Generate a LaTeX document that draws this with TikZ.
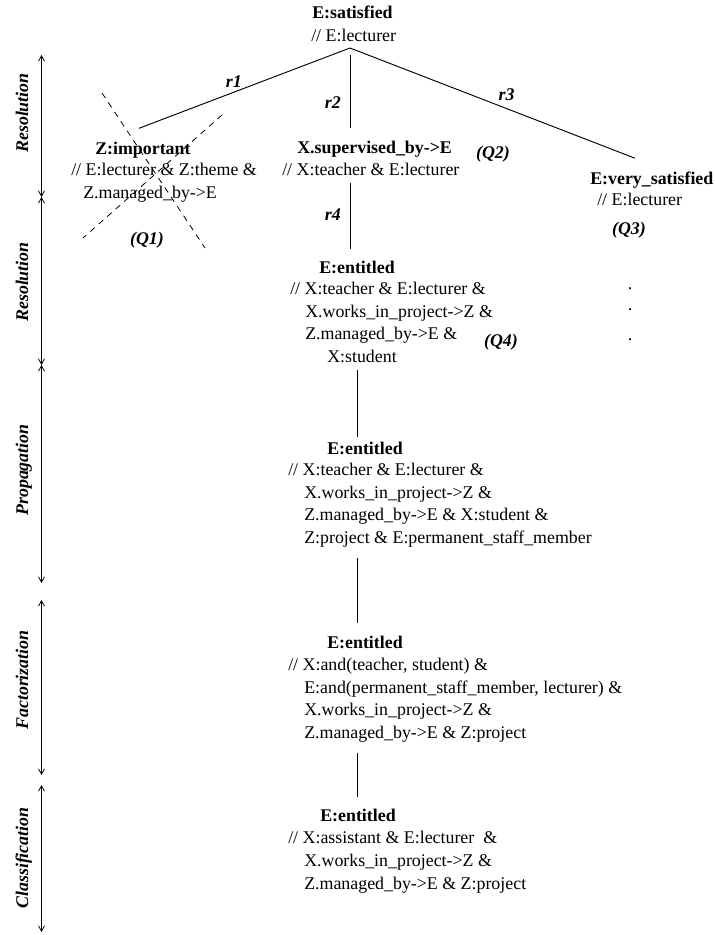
\documentclass[tikz,border=0pt]{standalone}
\usepackage{fontspec}
\setmainfont{Liberation Serif}
\usetikzlibrary{arrows.meta, positioning, calc}

\newcommand{\txtsize}{\fontsize{13.4pt}{16.9pt}\selectfont}

\begin{document}
\begin{tikzpicture}[
    x=0.75pt, y=-0.75pt,
    head/.style={font=\txtsize\bfseries, inner sep=0pt, anchor=base west},
    body/.style={font=\txtsize, align=left, inner sep=0pt, anchor=base west},
    rule/.style={font=\txtsize\bfseries\itshape, inner sep=0pt},
    query/.style={font=\txtsize\bfseries\itshape, inner sep=0pt},
    stage/.style={font=\txtsize\bfseries\itshape, rotate=90, anchor=base, inner sep=0pt},
    dot/.style={font=\txtsize, inner sep=0pt, anchor=base},
    edge/.style={line width=0.7pt},
    strike/.style={dash pattern=on 4.5pt off 4pt, line width=0.6pt},
    span/.style={<->, >={Straight Barb[length=4pt, width=4.5pt]}, line width=0.6pt}
]
\useasboundingbox (0,0) rectangle (714,935);

% Root (bodies are placed at the baseline of their last line)
\node[head] (sat) at (312,18) {E:satisfied};
\node[body] (satb) at (311,41) {// E:lecturer};
\coordinate (apex) at (350,48);

% First resolution step
\node[head] (imp) at (95,154) {Z:important};
\node[body] (impb) at (71,198.5) {// E:lecturer \& Z:theme \&\\\hspace*{9pt}Z.managed\_by->E};
\node[head] (sup) at (297,153) {X.supervised\_by->E};
\node[body] (supb) at (282,175) {// X:teacher \& E:lecturer};
\node[head] (vsat) at (590,184) {E:very\_satisfied};
\node[body] (vsatb) at (597,205) {// E:lecturer};

% Second resolution step
\node[head] (ent1) at (319,273) {E:entitled};
\node[body] (ent1b) at (290,362.5) {// X:teacher \& E:lecturer \&\\\hspace*{11.25pt}X.works\_in\_project->Z \&\\\hspace*{11.25pt}Z.managed\_by->E \&\\\hspace*{27.75pt}X:student};

% Propagation
\node[head] (ent2) at (327,454) {E:entitled};
\node[body] (ent2b) at (288,543.5) {// X:teacher \& E:lecturer \&\\\hspace*{12pt}X.works\_in\_project->Z \&\\\hspace*{12pt}Z.managed\_by->E \& X:student \&\\\hspace*{12pt}Z:project \& E:permanent\_staff\_member};

% Factorization
\node[head] (ent3) at (327,648) {E:entitled};
\node[body] (ent3b) at (288,738.5) {// X:and(teacher, student) \&\\\hspace*{12pt}E:and(permanent\_staff\_member, lecturer) \&\\\hspace*{12pt}X.works\_in\_project->Z \&\\\hspace*{12pt}Z.managed\_by->E \& Z:project};

% Classification
\node[head] (ent4) at (320,821) {E:entitled};
\node[body] (ent4b) at (288,889) {// X:assistant \& E:lecturer\ \ \&\\\hspace*{12pt}X.works\_in\_project->Z \&\\\hspace*{12pt}Z.managed\_by->E \& Z:project};

% Queries
\node[query] (q1) at (147,240) {(Q1)};
\node[query] (q2) at (493,154) {(Q2)};
\node[query] (q3) at (629,230) {(Q3)};
\node[query] (q4) at (501,342) {(Q4)};

% Remaining branches
\foreach \y [count=\i] in {289,310,340}
  \node[dot] (dot\i) at (630,\y) {.};

% Tree edges
\draw[edge] (apex) -- node[rule, above=3.5pt, pos=0.55] {r1} ($(imp.north)+(-4,-13)$);
\draw[edge] ($(apex)+(0,7)$) -- node[rule, left=6.5pt, pos=0.65] {r2} ($(apex |- sup.north)+(0,-12)$);
\draw[edge] (apex) -- node[rule, above=5.5pt, pos=0.55] {r3} ($(vsat.north)+(-17,-13)$);
\draw[edge] ($(apex |- supb.south)+(0,7)$) -- node[rule, left=6.5pt, pos=0.48] {r4} ($(apex |- ent1.north)+(0,-11)$);

\coordinate (spine) at (357,0);
\draw[edge, shorten <=5.25pt, shorten >=3pt] (ent1b.south -| spine) -- (ent2.north -| spine);
\draw[edge, shorten <=7.5pt, shorten >=9pt] (ent2b.south -| spine) -- (ent3.north -| spine);
\draw[edge, shorten <=7.5pt, shorten >=8.25pt] (ent3b.south -| spine) -- (ent4.north -| spine);

% Pruned branch
\draw[strike] (102,93) -- (205,248);
\draw[strike] (222,115) -- (83,238);

% Stages
\foreach \a/\b/\m/\name [count=\i] in {55/197/113/Resolution, 197/365/282/Resolution, 365/583/470/Propagation, 600/775/680/Factorization, 785/932/858/Classification}
{
  \draw[span] (41.5,\a) -- (41.5,\b);
  \node[stage] (stage\i) at (28,\m) {\name};
}

\end{tikzpicture}
\end{document}
